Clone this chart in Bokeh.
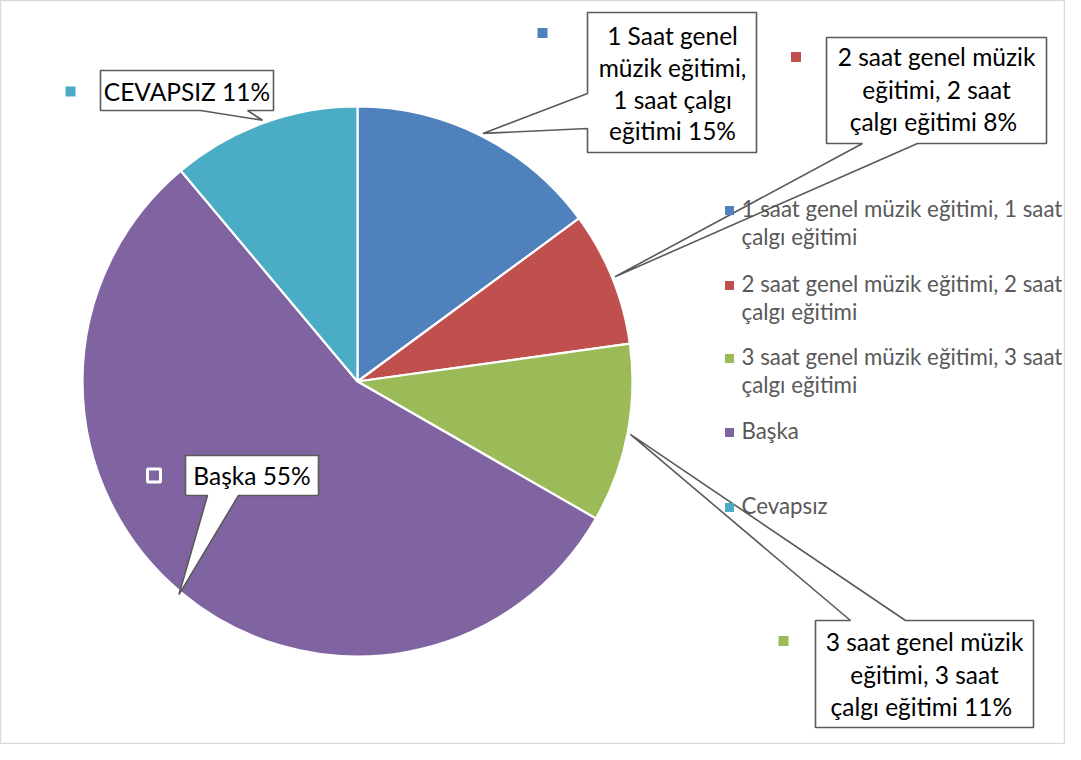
import math
from bokeh.plotting import figure
from bokeh.models import Range1d
from bokeh.core.properties import value
from bokeh.embed import file_html
from bokeh.resources import INLINE

# ---------------- data ----------------
categories = [
    "1 saat genel müzik eğitimi, 1 saat çalgı eğitimi",
    "2 saat genel müzik eğitimi, 2 saat çalgı eğitimi",
    "3 saat genel müzik eğitimi, 3 saat çalgı eğitimi",
    "Başka",
    "Cevapsız",
]
values = [14.9, 7.9, 10.5, 55.6, 11.1]
colors = ["#4F81BD", "#C0504D", "#9BBB59", "#8064A2", "#4BACC6"]
legend_lines = [
    ["1 saat genel müzik eğitimi, 1 saat", "çalgı eğitimi"],
    ["2 saat genel müzik eğitimi, 2 saat", "çalgı eğitimi"],
    ["3 saat genel müzik eğitimi, 3 saat", "çalgı eğitimi"],
    ["Başka"],
    ["Cevapsız"],
]
label_lines = [
    ["1 Saat genel", "müzik eğitimi,", "1 saat çalgı", "eğitimi 15%"],
    ["2 saat genel müzik", "eğitimi, 2 saat", "çalgı eğitimi  8%"],
    ["3 saat genel müzik", "eğitimi, 3 saat", "çalgı eğitimi  11%"],
    ["Başka 55%"],
    ["CEVAPSIZ 11%"],
]

# ---------------- layout (reference pixel coords) ----------------
W, H = 1065, 744
def px(X): return X
def py(Y): return H - Y
TXT_DY = 9  # empirical correction for baseline placement

CX, CY, R = px(357), py(381), 275

boxes = [
    dict(l=587, t=12, r=756, b=152, edge="left", base=(93, 128), cx=672,
         base_y=[44, 75.5, 107.5, 139], key=(542, 32.5), hollow=False),
    dict(l=826, t=37, r=1046, b=143, edge="bottom", base=(862, 917), cx=936,
         base_y=[65, 98, 130], key=(795.5, 56.5), hollow=False),
    dict(l=815, t=620, r=1033, b=727, edge="top", base=(850, 905), cx=924,
         base_y=[650, 683, 715], key=(783, 640.5), hollow=False),
    dict(l=185, t=455, r=318, b=495, edge="bottom", base=(207, 238), cx=251.5,
         base_y=[484], key=(153.5, 475), hollow=True),
    dict(l=100, t=70, r=273, b=110, edge="bottom", base=(200, 247), cx=186.5,
         base_y=[100], key=(70, 91), hollow=False),
]
legend_sq_y = [210, 285, 358, 432, 507]
legend_sq_x = 729
legend_text_x = 741

p = figure(width=W, height=H, output_backend="svg", toolbar_location=None,
           x_range=Range1d(0, W), y_range=Range1d(0, H),
           x_axis_location=None, y_axis_location=None, min_border=0)
p.grid.visible = False
p.outline_line_color = "#D9D9D9"
p.outline_line_width = 1.5
p.background_fill_color = "white"

# ---------------- pie ----------------
total = sum(values)
cum = 0.0
starts, ends, mids = [], [], []
for v in values:
    c0 = cum / total
    cum += v
    c1 = cum / total
    starts.append(math.pi / 2 - 2 * math.pi * c0)
    ends.append(math.pi / 2 - 2 * math.pi * c1)
    mids.append(math.pi / 2 - 2 * math.pi * (c0 + c1) / 2)

p.wedge(x=[CX] * len(values), y=[CY] * len(values), radius=R,
        start_angle=starts, end_angle=ends, direction="clock",
        fill_color=colors, line_color="white", line_width=2.2)

# ---------------- callouts ----------------
xs, ys = [], []
for b, a in zip(boxes, mids):
    tipx = CX + (R + 3) * math.cos(a)
    tipy = CY + (R + 3) * math.sin(a)
    l, t, r, bt = px(b["l"]), py(b["t"]), px(b["r"]), py(b["b"])
    b0, b1 = b["base"]
    if b["edge"] == "left":
        pts = [(l, t), (r, t), (r, bt), (l, bt), (l, py(b1)), (tipx, tipy), (l, py(b0))]
    elif b["edge"] == "bottom":
        pts = [(l, t), (r, t), (r, bt), (px(b1), bt), (tipx, tipy), (px(b0), bt), (l, bt)]
    else:  # top
        pts = [(l, t), (px(b0), t), (tipx, tipy), (px(b1), t), (r, t), (r, bt), (l, bt)]
    xs.append([q[0] for q in pts])
    ys.append([q[1] for q in pts])

p.patches(xs=xs, ys=ys, fill_color="white", line_color="#5A5A5A", line_width=1.6)

# label key squares
for b, c in zip(boxes, colors):
    kx, ky = px(b["key"][0]), py(b["key"][1])
    if b["hollow"]:
        p.scatter([kx], [ky], marker="square", size=13, fill_color=c,
                  line_color="white", line_width=3)
    else:
        p.scatter([kx], [ky], marker="square", size=10, fill_color=c, line_color=None)

# label texts
for b, lines in zip(boxes, label_lines):
    p.text(x=[px(b["cx"])] * len(lines), y=[py(yy - TXT_DY) for yy in b["base_y"]], text=lines,
           text_font=value("Lato"), text_font_size=value("24.5px"),
           text_align="center", text_baseline="alphabetic", text_color="black")

# ---------------- legend ----------------
for sy, c, lines in zip(legend_sq_y, colors, legend_lines):
    p.scatter([px(legend_sq_x)], [py(sy)], marker="square", size=9, fill_color=c, line_color=None)
    p.text(x=[px(legend_text_x)] * len(lines),
           y=[py(sy + 6.5 + 28 * i - TXT_DY) for i in range(len(lines))], text=lines,
           text_font=value("Lato"), text_font_size=value("22.3px"),
           text_align="left", text_baseline="alphabetic", text_color="#595959")

open("out.html", "w").write(file_html(p, INLINE))
